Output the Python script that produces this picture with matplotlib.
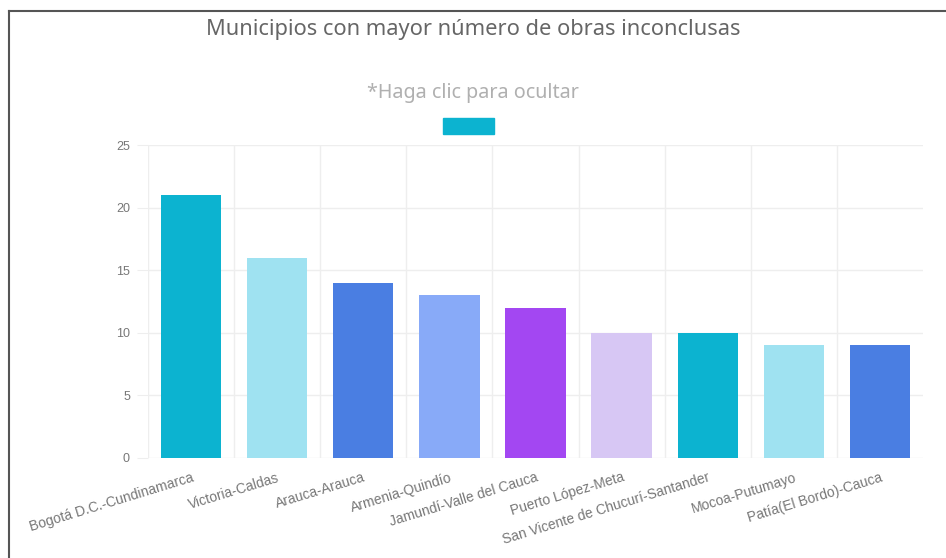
import matplotlib
matplotlib.use("Agg")
import matplotlib.pyplot as plt
from matplotlib.lines import Line2D
from matplotlib.patches import Rectangle

categories = ["Bogotá D.C.-Cundinamarca", "Victoria-Caldas", "Arauca-Arauca",
              "Armenia-Quindío", "Jamundí-Valle del Cauca", "Puerto López-Meta",
              "San Vicente de Chucurí-Santander", "Mocoa-Putumayo",
              "Patía(El Bordo)-Cauca"]
values = [21, 16, 14, 13, 12, 10, 10, 9, 9]
colors = ["#0cb3d0", "#9fe2f1", "#4a7ee2", "#88aaf8", "#a347f2", "#d7c7f4",
          "#0cb3d0", "#9fe2f1", "#4a7ee2"]
yticks = [0, 5, 10, 15, 20, 25]

W, H = 946, 558
fig = plt.figure(figsize=(W / 100, H / 100), dpi=100)
ax = fig.add_axes([148 / W, 1 - 458 / H, (923 - 148) / W, (458 - 145) / H])

x = list(range(len(categories)))
ax.bar(x, values, width=0.7, color=colors, zorder=2)
ax.set_xlim(-0.5, len(categories) - 0.5)
ax.set_ylim(0, 25)
ax.set_yticks(yticks)
ax.set_yticklabels([str(t) for t in yticks], color="#777777", fontsize=9,
                   family="Liberation Sans")
ax.set_xticks(x)
ax.set_xticklabels(categories, rotation=17, ha="right", rotation_mode="anchor",
                   color="#777777", fontsize=10, family="Liberation Sans")
ax.tick_params(axis="x", length=0, pad=9)
ax.tick_params(axis="y", length=8, color="#eeeeee", pad=5)

for t in yticks:
    ax.axhline(t, color="#eeeeee", lw=1, zorder=0)
for b in range(len(categories)):
    ax.axvline(b - 0.5, color="#eeeeee", lw=1, zorder=0)
for s in ax.spines.values():
    s.set_visible(False)

fig.text(0.5, 1 - 30 / H, "Municipios con mayor número de obras inconclusas",
         ha="center", va="center", fontsize=15.7, color="#666666",
         family="Noto Sans")
fig.text(0.5, 1 - 93 / H, "*Haga clic para ocultar", ha="center", va="center",
         fontsize=14.2, color="#b0b0b0", family="Noto Sans")
fig.add_artist(Rectangle((443 / W, 1 - 134 / H), 51 / W, 16 / H,
                         transform=fig.transFigure, color="#0cb3d0"))

fig.add_artist(Line2D([8.5 / W, 8.5 / W], [0, 1 - 11 / H], color="#555555",
                      lw=1.5, transform=fig.transFigure))
fig.add_artist(Line2D([8.5 / W, 1], [1 - 11 / H, 1 - 11 / H], color="#555555",
                      lw=1.5, transform=fig.transFigure))

fig.savefig("out.png", dpi=100)
